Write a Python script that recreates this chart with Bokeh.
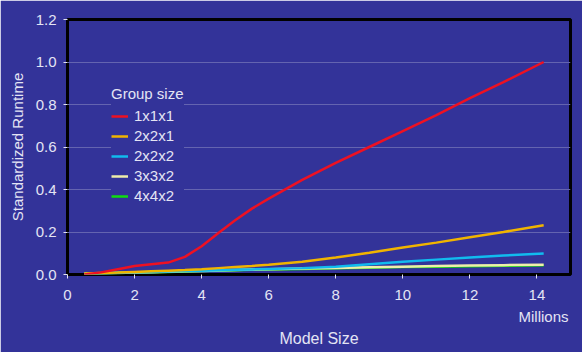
from bokeh.plotting import figure
from bokeh.models import Range1d, Legend, LegendItem, Title, FixedTicker, CustomJSTickFormatter
from bokeh.embed import file_html
from bokeh.resources import INLINE

BG = "#333399"
TXT = "#e4e4f4"

x_vals = [0.5, 1.0, 1.5, 2.0, 2.5, 3.0, 3.5, 4.0, 4.5, 5.0, 5.5, 6.0, 7.0, 8.0, 9.0, 10.0, 11.0, 12.0, 13.0, 14.2]
g1x1x1 = [0.0, 0.01, 0.025, 0.04, 0.048, 0.056, 0.083, 0.133, 0.195, 0.255, 0.31, 0.357, 0.445, 0.525, 0.6, 0.675, 0.75, 0.83, 0.905, 1.0]
g2x2x1 = [0.005, 0.007, 0.009, 0.012, 0.015, 0.018, 0.021, 0.025, 0.03, 0.035, 0.04, 0.046, 0.06, 0.08, 0.102, 0.127, 0.15, 0.175, 0.2, 0.232]
g2x2x2 = [0.004, 0.006, 0.008, 0.01, 0.012, 0.014, 0.016, 0.018, 0.02, 0.022, 0.024, 0.026, 0.03, 0.036, 0.048, 0.06, 0.07, 0.08, 0.089, 0.099]
g3x3x2 = [0.004, 0.005, 0.007, 0.009, 0.011, 0.013, 0.015, 0.017, 0.019, 0.021, 0.023, 0.025, 0.028, 0.031, 0.034, 0.037, 0.04, 0.042, 0.044, 0.046]
g4x4x2 = [0.004, 0.005, 0.007, 0.009, 0.01, 0.012, 0.014, 0.016, 0.018, 0.02, 0.022, 0.023, 0.026, 0.029, 0.032, 0.035, 0.037, 0.039, 0.041, 0.043]

names = ["1x1x1", "2x2x1", "2x2x2", "3x3x2", "4x4x2"]
series = [g1x1x1, g2x2x1, g2x2x2, g3x3x2, g4x4x2]
colors = ["#ee1122", "#f0b400", "#11bbee", "#eeeeaa", "#11dd11"]

x_ticks = [0, 2, 4, 6, 8, 10, 12, 14]
y_ticks = [0.0, 0.2, 0.4, 0.6, 0.8, 1.0, 1.2]

p = figure(width=582, height=352, output_backend="svg", toolbar_location=None,
           x_range=Range1d(0, 15), y_range=Range1d(0, 1.2),
           min_border_left=67, min_border_right=12, min_border_top=19, min_border_bottom=78)
p.background_fill_color = BG
p.border_fill_color = BG
p.outline_line_color = "black"
p.outline_line_width = 3

renderers = []
for name, ys, c in zip(names[::-1], series[::-1], colors[::-1]):
    r = p.line(x_vals, ys, line_color=c, line_width=2.5)
    renderers.append((name, r))
renderers = renderers[::-1]

p.xgrid.grid_line_color = None
p.ygrid.grid_line_color = "#6464b0"
p.ygrid.grid_line_width = 1

for ax in (p.xaxis[0], p.yaxis[0]):
    ax.axis_line_color = None
    ax.major_tick_line_color = TXT
    ax.major_tick_in = 0
    ax.major_tick_out = 4
    ax.minor_tick_line_color = None
    ax.major_label_text_color = TXT
    ax.major_label_text_font = "Liberation Sans"
    ax.major_label_text_font_size = "15px"
    ax.axis_label_text_color = TXT
    ax.axis_label_text_font = "Liberation Sans"
    ax.axis_label_text_font_size = "15px"
    ax.axis_label_text_font_style = "normal"

p.xaxis.ticker = FixedTicker(ticks=x_ticks)
p.yaxis.ticker = FixedTicker(ticks=y_ticks)
p.yaxis.formatter = CustomJSTickFormatter(code="return tick.toFixed(1);")
p.xaxis.major_label_standoff = 11
p.yaxis.major_label_standoff = 7
p.yaxis.axis_label = "Standardized Runtime"
p.yaxis.axis_label_standoff = 7

legend = Legend(items=[LegendItem(label=n, renderers=[r]) for n, r in renderers],
                title="Group size", location=(44, 70),
                background_fill_color=BG, background_fill_alpha=1.0,
                border_line_color=None,
                label_text_color=TXT, label_text_font="Liberation Sans",
                label_text_font_size="15px",
                title_text_color=TXT, title_text_font="Liberation Sans",
                title_text_font_size="15px", title_text_font_style="normal",
                glyph_width=17, glyph_height=14, label_standoff=6,
                spacing=3, padding=6)
p.add_layout(legend)

t_mill = Title(text="Millions", align="right", offset=2, standoff=6,
               text_color=TXT, text_font="Liberation Sans", text_font_size="15px",
               text_font_style="normal")
t_model = Title(text="Model Size", align="center", standoff=0,
                text_color=TXT, text_font="Liberation Sans", text_font_size="16px",
                text_font_style="normal")
p.add_layout(t_mill, "below")
p.add_layout(t_model, "below")

open("out.html", "w").write(file_html(p, INLINE))
